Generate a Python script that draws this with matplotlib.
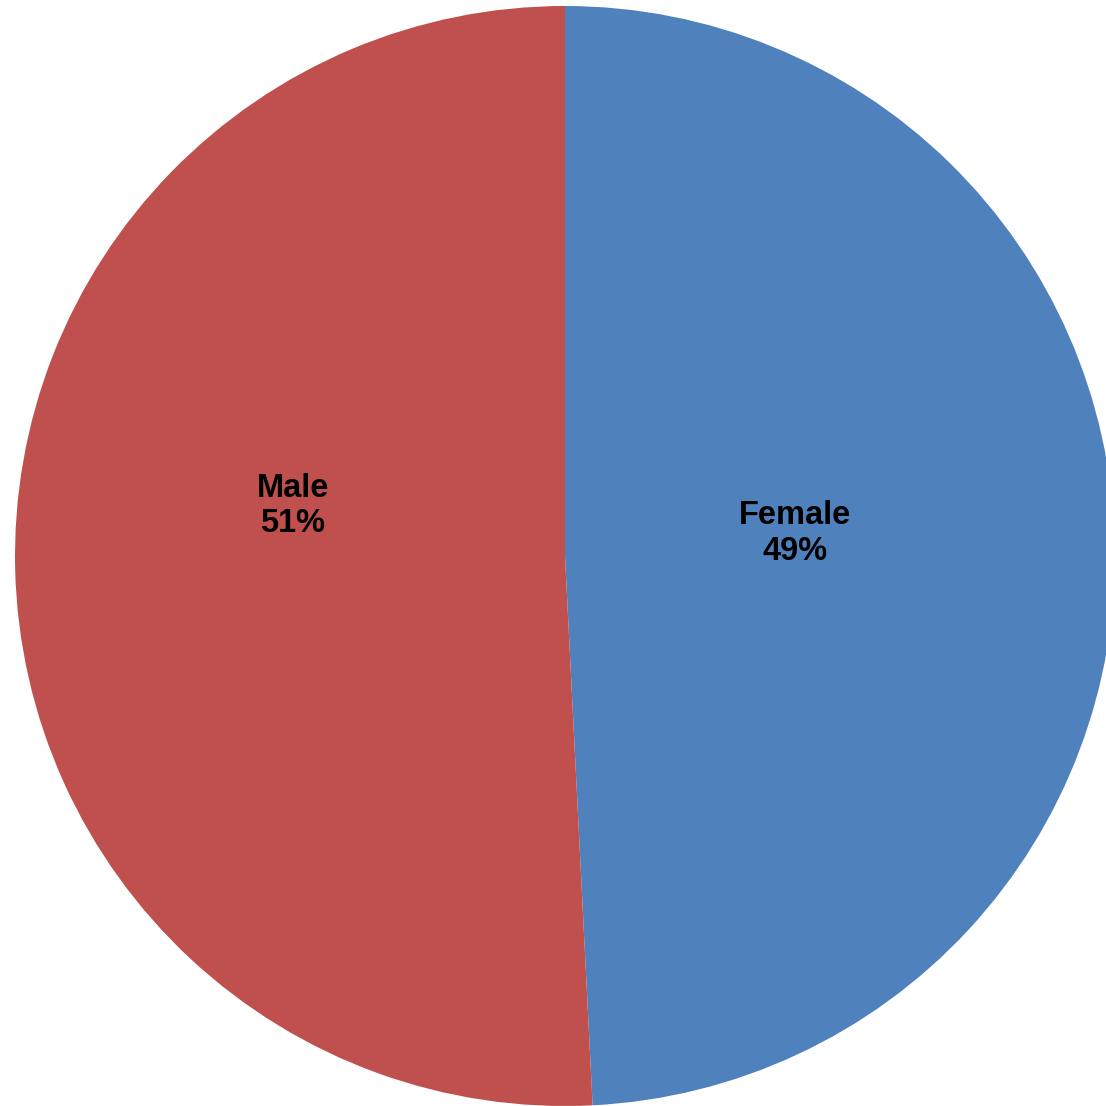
import matplotlib
matplotlib.use("Agg")
import matplotlib.pyplot as plt
import numpy as np

categories = ["Female", "Male"]
values = [49.2, 50.8]
colors = ["#4F81BD", "#C0504D"]

# label positions (radius fraction, angle in degrees)
label_pos = {"Female": (0.421, 5.5), "Male": (0.503, 169.6)}

W = H = 1106
fig = plt.figure(figsize=(W / 100, H / 100), dpi=100)
cx, cy, R = 565, 556, 550
ax = fig.add_axes([(cx - R) / W, (H - cy - R) / H, 2 * R / W, 2 * R / H])
ax.axis("off")

wedges, _ = ax.pie(values, colors=colors, startangle=90, counterclock=False,
                   radius=1, center=(0, 0), frame=False,
                   wedgeprops=dict(linewidth=0, antialiased=True))
for w in wedges:
    w.set_clip_on(False)
ax.set_xlim(-1, 1)
ax.set_ylim(-1, 1)
ax.set_aspect("auto")

total = sum(values)
for cat, v in zip(categories, values):
    r, a = label_pos[cat]
    x, y = r * np.cos(np.radians(a)), r * np.sin(np.radians(a))
    ax.text(x, y, f"{cat}\n{v / total * 100:.0f}%", ha="center", va="center",
            fontsize=23.5, fontweight="bold", family="Liberation Sans",
            linespacing=1.2, color="black")

fig.savefig("out.png", dpi=100)
